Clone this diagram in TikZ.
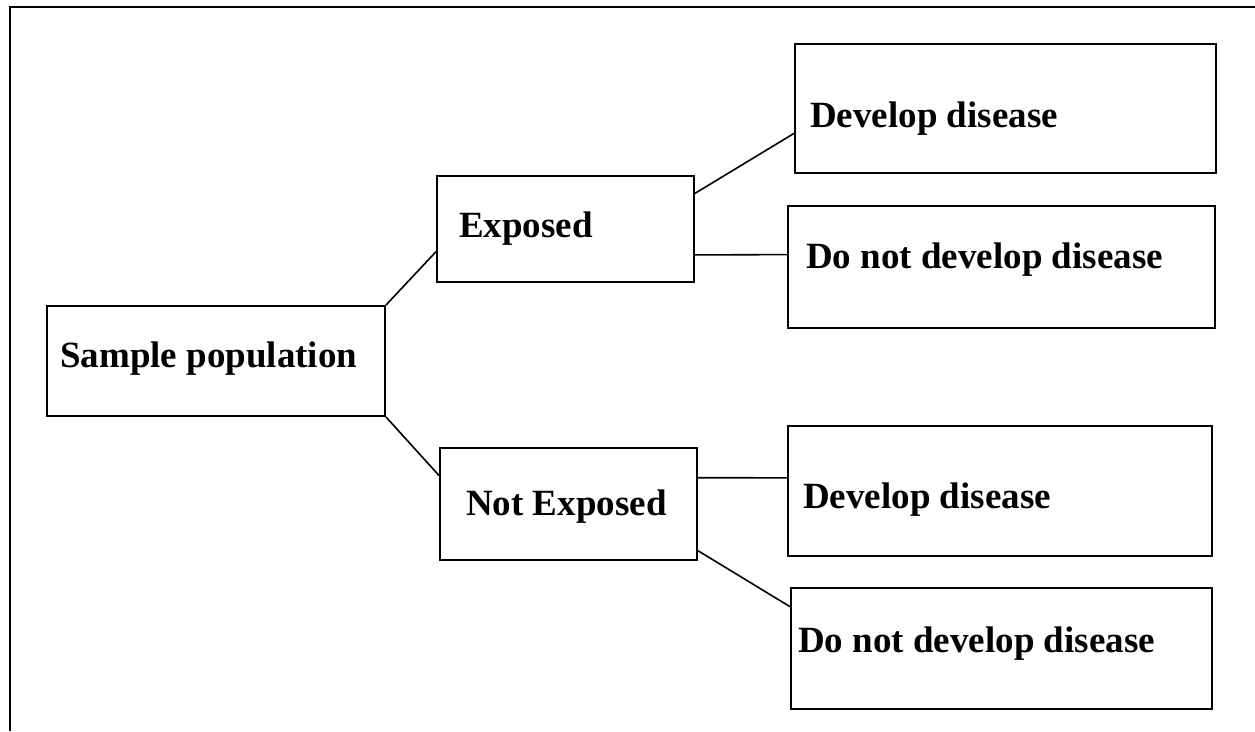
\documentclass[tikz,border=0pt]{standalone}
\usepackage{fontspec}
\setmainfont{Liberation Serif}
\usetikzlibrary{calc}
\begin{document}
\begin{tikzpicture}[x=1pt,y=-1pt,
  box/.style={draw=black, line width=2pt, inner sep=0pt, anchor=north west},
  lbl/.style={anchor=base west, inner sep=0pt, font=\fontsize{37}{41}\selectfont\bfseries},
  link/.style={draw=black, line width=1.6pt}]
  \useasboundingbox (0,0) rectangle (1255,731);
  % outer frame: top and left edges only
  \draw[line width=2.6pt] (10,731) -- (10,7) -- (1255,7);

  % boxes
  \node[box, minimum width=338pt, minimum height=110pt] (sp) at (46,305) {};
  \node[box, minimum width=257pt, minimum height=106pt] (ex) at (436,175) {};
  \node[box, minimum width=257pt, minimum height=112pt] (ne) at (439,447) {};
  \node[box, minimum width=421pt, minimum height=129pt] (d1) at (794,43) {};
  \node[box, minimum width=427pt, minimum height=122pt] (n1) at (787,205) {};
  \node[box, minimum width=424pt, minimum height=130pt] (d2) at (787,425) {};
  \node[box, minimum width=421pt, minimum height=121pt] (n2) at (790,587) {};

  % labels
  \node[lbl] (tsp) at (60,367) {Sample population};
  \node[lbl] (tex) at (459,237) {Exposed};
  \node[lbl] (tne) at (466,515) {Not Exposed};
  \node[lbl] (td1) at (810,127) {Develop disease};
  \node[lbl] (tn1) at (806,268) {Do not develop disease};
  \node[lbl] (td2) at (803,508) {Develop disease};
  \node[lbl] (tn2) at (798,652) {Do not develop disease};

  % connectors
  \draw[link] (sp.north east) -- ($(ex.north west)!0.71!(ex.south west)$);
  \draw[link] (sp.south east) -- ($(ne.north west)!0.25!(ne.south west)$);
  \draw[link] ($(ex.north east)!0.17!(ex.south east)$) -- ($(d1.north west)!0.69!(d1.south west)$);
  \draw[link] ($(ex.north east)!0.74!(ex.south east)$) -- ($(n1.north west)!0.40!(n1.south west)$);
  \draw[link] ($(ne.north east)!0.27!(ne.south east)$) -- ($(d2.north west)!0.40!(d2.south west)$);
  \draw[link] ($(ne.north east)!0.91!(ne.south east)$) -- ($(n2.north west)!0.16!(n2.south west)$);
\end{tikzpicture}
\end{document}
